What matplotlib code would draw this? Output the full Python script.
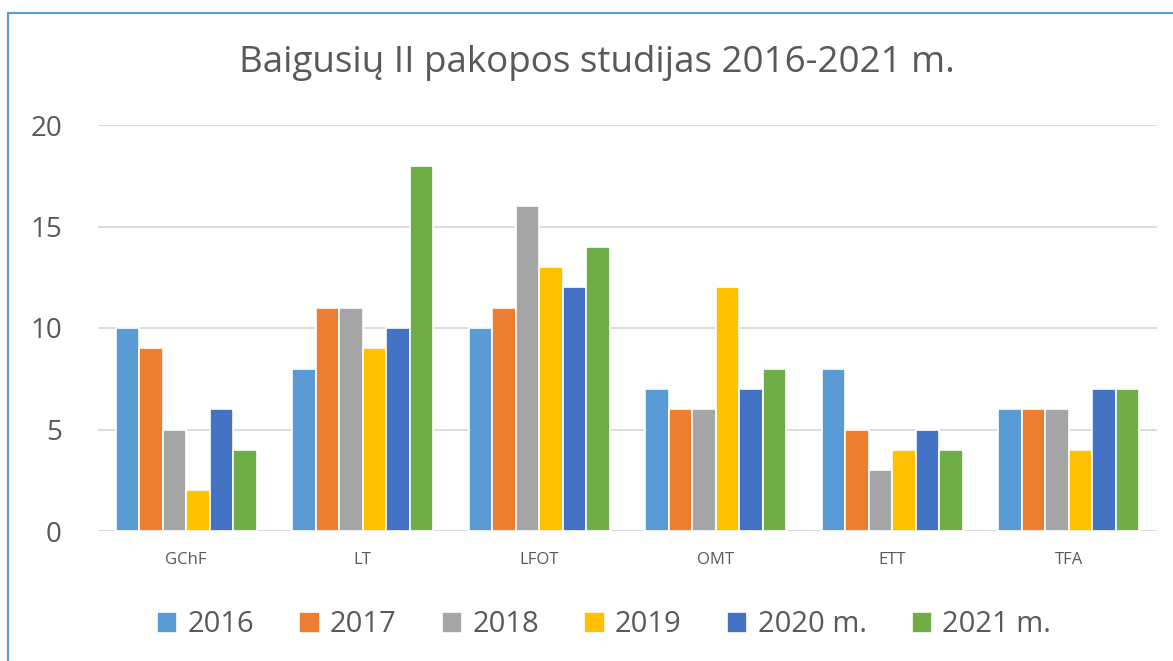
import matplotlib
matplotlib.use("Agg")
import matplotlib.pyplot as plt
import numpy as np
from matplotlib.patches import Rectangle

categories = ["GChF", "LT", "LFOT", "OMT", "ETT", "TFA"]
series_names = ["2016", "2017", "2018", "2019", "2020 m.", "2021 m."]
v2016 = [10, 8, 10, 7, 8, 6]
v2017 = [9, 11, 11, 6, 5, 6]
v2018 = [5, 11, 16, 6, 3, 6]
v2019 = [2, 9, 13, 12, 4, 4]
v2020 = [6, 10, 12, 7, 5, 7]
v2021 = [4, 18, 14, 8, 4, 7]
series = [v2016, v2017, v2018, v2019, v2020, v2021]
colors = ["#5B9BD5", "#ED7D31", "#A5A5A5", "#FFC000", "#4472C4", "#70AD47"]
yticks = [0, 5, 10, 15, 20]

plt.rcParams['font.family'] = ['Open Sans', 'DejaVu Sans']
txt = "#595959"

fig = plt.figure(figsize=(11.73, 6.61), dpi=100)
ax = fig.add_axes([98/1173, 1-531/661, (1157-98)/1173, (531-125)/661])

x = np.arange(len(categories))
slot = 0.133
for i, (vals, c, name) in enumerate(zip(series, colors, series_names)):
    ax.bar(x + (i - 2.5) * slot, vals, width=slot, color=c, edgecolor="white",
           linewidth=1.2, label=name, zorder=3)

ax.set_xlim(-0.5, len(categories) - 0.5)
ax.set_ylim(0, 20)
ax.set_yticks(yticks)
ax.set_yticklabels([str(t) for t in yticks], fontsize=20, color=txt)
ax.set_xticks(x)
ax.set_xticklabels(categories, fontsize=12, color=txt)
ax.tick_params(axis='both', length=0)
ax.tick_params(axis='y', pad=26)
ax.tick_params(axis='x', pad=15)
ax.grid(axis='y', color="#D9D9D9", linewidth=1.3, zorder=0)
for s in ax.spines.values():
    s.set_visible(False)

fig.text(597/1173, 1-63/661, "Baigusių II pakopos studijas 2016-2021 m.",
         ha='center', va='center', fontsize=26.5, color=txt)

leg = fig.legend(loc='center', bbox_to_anchor=(604/1173, 1-625/661), ncol=6,
                 frameon=False, fontsize=21, handlelength=0.7, handleheight=0.7,
                 handletextpad=0.35, columnspacing=1.55, labelcolor=txt)

# frame border (left and top visible)
fig.add_artist(Rectangle((8/1173, -0.05), 1.1, (1-13/661) + 0.05, transform=fig.transFigure,
                         fill=False, edgecolor="#5B9BD5", linewidth=1.5))

fig.savefig("out.png", dpi=100, facecolor="white")
